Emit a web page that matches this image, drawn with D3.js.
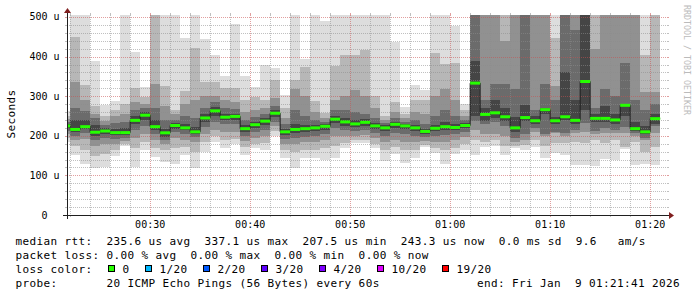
<!DOCTYPE html>
<html>
<head>
<meta charset="utf-8">
<script src="https://cdn.jsdelivr.net/npm/d3@7"></script>
<style>
  body { margin: 0; background: #fff; }
  svg { display: block; }
  text { font-family: "DejaVu Sans Mono", monospace; white-space: pre; }
</style>
</head>
<body>
<svg id="chart" width="697" height="297"></svg>
<script>
// one column per minute, starting 00:21 (values in microseconds)
var median = [225,216,223,209,212,208,208,239,252,223, 207.5,226,220,210,245,263,247,249,218,228,
              237,257,210,216,218,220,224,242,235,230, 234,225,220,229,225,220,211,219,223,221,
              226,333,254,258,248,220,246,238,266,238, 248,239,337.1,244,244,240,277,218,210,243.3];

// smoke: sorted ping ranks read per column (top of chart is ~505)
var pMax = [262,505,505,389,277,288,505,412,323,505, 505,505,446,505,444,404,351,482,351,324,
            378,372,304,505,393,505,490,505,505,505, 505,505,505,437,273,329,315,505,505,476,
            281,505,505,505,505,505,505,505,505,505, 505,505,505,505,505,505,505,505,505,505];
var p18  = [250,450,328,275,250,265,281,320,297,505, 325,265,313,421,335,335,320,320,290,297,
            290,340,270,342,374,288,257,376,404,404, 417,300,250,285,255,290,290,408,381,383,
            265,505,505,505,505,505,505,505,505,446, 505,505,505,505,505,505,505,505,404,505];
var p16  = [242,335,290,255,238,250,255,285,280,330, 275,255,280,290,300,300,290,285,260,265,
            270,295,245,318,300,260,245,290,300,315, 300,270,240,260,245,260,255,300,318,290,
            250,505,505,505,440,505,505,505,505,325, 505,505,505,420,505,505,505,505,311,311];
var p14  = [236,270,262,245,228,232,235,265,270,270, 240,240,250,245,270,285,270,268,240,248,
            255,275,230,265,250,240,235,265,265,260, 255,245,232,245,236,240,230,250,265,250,
            240,505,290,330,332,317,505,265,332,290, 505,467,505,270,317,300,385,290,265,281];
var p12  = [230,240,240,226,220,218,220,250,260,240, 218,232,230,222,255,272,256,256,226,236,
            245,265,218,230,228,228,230,250,245,240, 242,232,226,236,230,228,218,228,235,230,
            232,389,270,290,270,248,277,250,270,248, 360,290,505,255,275,255,281,235,225,255];
var p9   = [219,210,216,200,205,202,202,230,240,214, 198,218,214,205,235,250,240,240,210,220,
            228,248,202,208,210,212,215,232,225,222, 225,218,212,220,218,212,205,212,215,214,
            220,250,238,245,238,210,238,230,255,230, 240,230,266,236,235,230,250,212,205,231];
var p7   = [212,200,206,190,195,192,195,215,225,205, 190,210,205,198,222,235,230,230,200,210,
            215,235,192,195,198,200,205,220,215,212, 215,208,200,208,205,200,196,200,202,205,
            210,238,230,235,225,195,205,220,205,210, 206,215,232,212,220,215,222,206,195,225];
var p5   = [205,190,192,175,180,180,188,195,205,190, 180,195,190,185,205,215,210,210,188,195,
            200,225,180,180,185,185,190,200,200,200, 202,195,185,190,185,185,186,185,185,190,
            198,215,205,205,200,185,190,210,200,206, 200,208,210,205,206,206,206,200,189,206];
var p3   = [195,175,165,150,155,165,180,170,185,170, 165,170,172,160,185,200,190,192,172,180,
            182,212,165,160,165,165,170,175,182,190, 190,180,165,172,165,165,178,170,165,170,
            180,190,185,190,175,175,178,190,175,181, 181,185,181,190,181,190,172,185,160,172];
var pMin = [185,152,128,118,122,150,175,122,165,147, 134,128,152,118,158,185,168,180,152,168,
            164,200,143,118,145,145,139,143,168,182, 182,168,137,155,132,145,172,157,128,155,
            164,152,172,175,152,168,164,172,145,156, 152,126,126,124,141,138,166,126,130,126];

var yTicks = [0, 100, 200, 300, 400, 500];
var yTickLabels = ["0", "100 u", "200 u", "300 u", "400 u", "500 u"];

var lossLabels = ["0", "1/20", "2/20", "3/20", "4/20", "10/20", "19/20"];
var lossColors = ["#26ff00", "#00b8ff", "#0059ff", "#5e00ff", "#7e00ff", "#dd00ff", "#ff0000"];

var legendLines = [
  "median rtt:  235.6 us avg  337.1 us max  207.5 us min  243.3 us now  0.0 ms sd  9.6   am/s",
  "packet loss: 0.00 % avg  0.00 % max  0.00 % min  0.00 % now",
  "loss color:",
  "probe:       20 ICMP Echo Pings (56 Bytes) every 60s"
];

var svg = d3.select("#chart");
var yMax = 505;
var t0 = new Date(2026, 0, 9, 0, 21, 41),
    t1 = new Date(2026, 0, 9, 1, 21, 41),
    firstMinute = new Date(2026, 0, 9, 0, 21, 0);

var x = d3.scaleTime().domain([t0, t1]).range([67, 667]);
var y = d3.scaleLinear().domain([0, yMax]).range([215, 15]);

var cols = median.map(function (m, i) {
  var s = d3.timeMinute.offset(firstMinute, i);
  return { x0: Math.max(x(s), 67), x1: x(d3.timeMinute.offset(s, 1)) };
});

// smoke bands, outer (light) first
var bands = [
  { lo: pMin, hi: pMax, color: "#dddddd" },
  { lo: p3, hi: p18, color: "#b7b7b7" },
  { lo: p5, hi: p16, color: "#919191" },
  { lo: p7, hi: p14, color: "#6b6b6b" },
  { lo: p9, hi: p12, color: "#454545" }
];

var smoke = svg.append("g").attr("shape-rendering", "crispEdges");
bands.forEach(function (b) {
  smoke.append("g")
    .selectAll("rect")
    .data(cols)
    .enter()
    .append("rect")
      .attr("x", function (d) { return d.x0; })
      .attr("width", function (d) { return d.x1 - d.x0; })
      .attr("y", function (d, i) { return y(Math.min(b.hi[i], yMax)); })
      .attr("height", function (d, i) { return y(b.lo[i]) - y(Math.min(b.hi[i], yMax)); })
      .attr("fill", b.color);
});

// grid (rrdtool style: dashed, with small solid ends outside the canvas)
var minorCol = "rgba(140,140,140,0.55)", majorCol = "rgba(200,80,80,0.55)";
var grid = svg.append("g");

function hline(v, col) {
  var yy = Math.round(y(v)) + 0.5;
  grid.append("line").attr("x1", 67).attr("x2", 667).attr("y1", yy).attr("y2", yy)
    .attr("stroke", col).attr("stroke-dasharray", "1,1");
  grid.append("line").attr("x1", 65).attr("x2", 67).attr("y1", yy).attr("y2", yy).attr("stroke", col);
  grid.append("line").attr("x1", 667).attr("x2", 669).attr("y1", yy).attr("y2", yy).attr("stroke", col);
}
function vline(t, col) {
  var xx = Math.round(x(t)) + 0.5;
  grid.append("line").attr("x1", xx).attr("x2", xx).attr("y1", 15).attr("y2", 215)
    .attr("stroke", col).attr("stroke-dasharray", "1,1");
  grid.append("line").attr("x1", xx).attr("x2", xx).attr("y1", 13).attr("y2", 15).attr("stroke", col);
  grid.append("line").attr("x1", xx).attr("x2", xx).attr("y1", 215).attr("y2", 217).attr("stroke", col);
}

d3.range(20, 501, 20).forEach(function (v) {
  hline(v, v % 100 === 0 ? majorCol : minorCol);
});
d3.timeMinute.every(2).range(t0, t1).forEach(function (t) {
  vline(t, t.getMinutes() % 10 === 0 ? majorCol : minorCol);
});

// median line + loss coloured marker
var pts = cols.map(function (d, i) { return [d.x0, y(median[i])]; });
pts.push([cols[cols.length - 1].x1, y(median[median.length - 1])]);
svg.append("path")
  .attr("d", d3.line().curve(d3.curveStepAfter)(pts))
  .attr("fill", "none")
  .attr("stroke", "#202020")
  .attr("stroke-width", 1);

svg.append("g")
  .selectAll("rect")
  .data(cols)
  .enter()
  .append("rect")
    .attr("x", function (d) { return d.x0; })
    .attr("width", function (d) { return d.x1 - d.x0; })
    .attr("y", function (d, i) { return y(median[i]) - 1.5; })
    .attr("height", 3)
    .attr("fill", lossColors[0]);

// axes
svg.append("line").attr("x1", 63).attr("x2", 671).attr("y1", 215.5).attr("y2", 215.5)
  .attr("stroke", "#1f1f1f");
svg.append("line").attr("x1", 67.5).attr("x2", 67.5).attr("y1", 219).attr("y2", 11)
  .attr("stroke", "#1f1f1f");
svg.append("path").attr("d", "M669,212 L669,219 L674,215.5 Z").attr("fill", "#801f1f");
svg.append("path").attr("d", "M64,13 L71,13 L67.5,8 Z").attr("fill", "#801f1f");

// y labels
svg.append("g")
  .selectAll("text")
  .data(yTicks)
  .enter()
  .append("text")
    .attr("x", function (d, i) { return i === 0 ? 47.5 : 59.5; })
    .attr("y", function (d) { return y(d) + 3.5; })
    .attr("text-anchor", "end")
    .attr("font-size", "10px")
    .text(function (d, i) { return yTickLabels[i]; });

// x labels
svg.append("g")
  .selectAll("text")
  .data(d3.timeMinute.every(10).range(t0, t1))
  .enter()
  .append("text")
    .attr("x", function (d) { return x(d); })
    .attr("y", 227.5)
    .attr("text-anchor", "middle")
    .attr("font-size", "10px")
    .text(d3.timeFormat("%H:%M"));

svg.append("text")
  .attr("transform", "translate(15,114) rotate(-90)")
  .attr("text-anchor", "middle")
  .attr("font-size", "11px")
  .attr("letter-spacing", "0.38px")
  .text("Seconds");

svg.append("text")
  .attr("transform", "translate(683.5,5) rotate(90)")
  .attr("font-size", "8.3px")
  .attr("fill", "#bbbbbb")
  .text("RRDTOOL / TOBI OETIKER");

// legend
var legend = svg.append("g")
  .attr("font-size", "11px")
  .attr("letter-spacing", "0.38px");

legendLines.forEach(function (s, i) {
  legend.append("text").attr("x", 15.5).attr("y", 244.5 + i * 14).text(s);
});

var bx = 108;
lossLabels.forEach(function (lab, i) {
  legend.append("rect")
    .attr("x", bx + 0.5).attr("y", 265.5).attr("width", 6).attr("height", 6)
    .attr("fill", lossColors[i]).attr("stroke", "#000").attr("stroke-width", 1);
  legend.append("text").attr("x", bx + 14.5).attr("y", 272.5).text(lab);
  bx += 30 + 7 * lab.length;
});

legend.append("text").attr("x", 477).attr("y", 286.5).text("end: Fri Jan  9 01:21:41 2026");
</script>
</body>
</html>
